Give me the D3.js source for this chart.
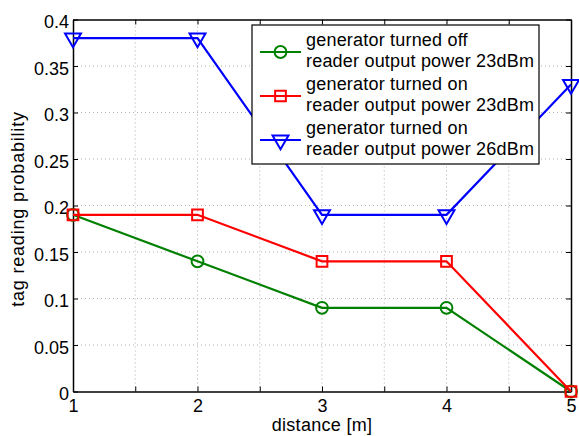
<!DOCTYPE html>
<html lang="en">
  <head>
    <meta charset="UTF-8" />
    <title>Tag reading probability</title>
    <script src="https://d3js.org/d3.v7.min.js"></script>
    <style>
      body { margin: 0; background: #fff; font-family: "Liberation Sans", Arial, sans-serif; }
      .grid line { stroke: #b0b0b0; stroke-dasharray: 1 3; }
    </style>
  </head>
  <body>
    <svg width="579" height="436"></svg>
    <script>
      const distances = [1, 2, 3, 4, 5];
      const genOff23 = [0.19, 0.14, 0.09, 0.09, 0];
      const genOn23 = [0.19, 0.19, 0.14, 0.14, 0];
      const genOn26 = [0.38, 0.38, 0.19, 0.19, 0.33];
      const xTicks = [1, 1.5, 2, 2.5, 3, 3.5, 4, 4.5, 5];
      const yTicks = [0, 0.05, 0.1, 0.15, 0.2, 0.25, 0.3, 0.35, 0.4];

      const series = [
        { name: ["generator turned off", "reader output power 23dBm"], values: genOff23, color: "#008000", marker: "circle" },
        { name: ["generator turned on", "reader output power 23dBm"], values: genOn23, color: "#ff0000", marker: "square" },
        { name: ["generator turned on", "reader output power 26dBm"], values: genOn26, color: "#0000ff", marker: "triangle" }
      ];

      const svg = d3.select("svg");
      const margin = { top: 19.5, right: 8, bottom: 44.5, left: 73 };
      const width = 579, height = 436;
      const x = d3.scaleLinear().domain([1, 5]).range([margin.left, width - margin.right]);
      const y = d3.scaleLinear().domain([0, 0.4]).range([height - margin.bottom, margin.top]);

      // grid
      svg.append("g").attr("class", "grid")
        .selectAll("line").data(xTicks.slice(1, -1)).join("line")
        .attr("x1", d => x(d)).attr("x2", d => x(d))
        .attr("y1", y(0)).attr("y2", y(0.4));
      svg.append("g").attr("class", "grid")
        .selectAll("line").data(yTicks.slice(1, -1)).join("line")
        .attr("y1", d => y(d)).attr("y2", d => y(d))
        .attr("x1", x(1)).attr("x2", x(5));

      const fmtY = d => (d === 0 ? "0" : String(+d.toFixed(2)));
      const fmtX = d => (Number.isInteger(d) ? d : "");

      const styleAxis = g => {
        g.select(".domain").attr("stroke", "#000").attr("stroke-width", 1.5);
        g.selectAll(".tick line").attr("stroke", "#000");
        g.selectAll(".tick text").attr("fill", "#000")
          .attr("font-size", 18).attr("font-family", "Liberation Sans, Arial, sans-serif");
      };

      svg.append("g").attr("transform", `translate(0,${y(0)})`)
        .call(d3.axisBottom(x).tickValues(xTicks).tickFormat(fmtX).tickSize(-5).tickSizeOuter(0).tickPadding(8))
        .call(styleAxis);
      svg.append("g").attr("transform", `translate(0,${y(0.4)})`)
        .call(d3.axisTop(x).tickValues(xTicks).tickFormat("").tickSize(-5).tickSizeOuter(0))
        .call(styleAxis);
      svg.append("g").attr("transform", `translate(${x(1)},0)`)
        .call(d3.axisLeft(y).tickValues(yTicks).tickFormat(fmtY).tickSize(-5).tickSizeOuter(0).tickPadding(4))
        .call(styleAxis)
        .call(g => g.selectAll(".tick text").attr("dy", "0.45em"));
      svg.append("g").attr("transform", `translate(${x(5)},0)`)
        .call(d3.axisRight(y).tickValues(yTicks).tickFormat("").tickSize(-5).tickSizeOuter(0))
        .call(styleAxis);

      const symbolFor = {
        circle: d3.symbol().type(d3.symbolCircle).size(110),
        square: d3.symbol().type(d3.symbolSquare).size(115),
        triangle: d3.symbol().type(d3.symbolTriangle).size(110)
      };
      const markerRotate = m => (m === "triangle" ? "rotate(180)" : "");

      const line = d3.line().x((d, i) => x(distances[i])).y(d => y(d));

      series.forEach(s => {
        svg.append("path").datum(s.values)
          .attr("fill", "none").attr("stroke", s.color).attr("stroke-width", 2.2)
          .attr("d", line);
        svg.append("g").selectAll("path").data(s.values).join("path")
          .attr("d", symbolFor[s.marker]())
          .attr("transform", (d, i) => `translate(${x(distances[i])},${y(d)}) ${markerRotate(s.marker)}`)
          .attr("fill", "none").attr("stroke", s.color).attr("stroke-width", 2);
      });

      // legend
      const legend = svg.append("g").attr("transform", "translate(252,25)");
      legend.append("rect").attr("width", 287).attr("height", 139)
        .attr("fill", "#fff").attr("stroke", "#000").attr("stroke-width", 1.2);
      series.forEach((s, i) => {
        const row = legend.append("g").attr("transform", `translate(0,${27 + i * 44})`);
        row.append("line").attr("x1", 8).attr("x2", 49).attr("y1", 0).attr("y2", 0)
          .attr("stroke", s.color).attr("stroke-width", 2.2);
        row.append("path").attr("d", symbolFor[s.marker]())
          .attr("transform", `translate(28.5,0) ${markerRotate(s.marker)}`)
          .attr("fill", "none").attr("stroke", s.color).attr("stroke-width", 2);
        s.name.forEach((t, j) => {
          row.append("text").attr("x", 54).attr("y", -6 + j * 20.5)
            .attr("font-size", 18).attr("letter-spacing", 0.2).attr("fill", "#000").text(t);
        });
      });

      svg.append("text").attr("x", x(3)).attr("y", 431)
        .attr("text-anchor", "middle").attr("font-size", 18).attr("letter-spacing", 0.3)
        .text("distance [m]");
      svg.append("text").attr("transform", `translate(24,209) rotate(-90)`)
        .attr("text-anchor", "middle").attr("font-size", 18).attr("letter-spacing", 0.8)
        .text("tag reading probability");
    </script>
  </body>
</html>
